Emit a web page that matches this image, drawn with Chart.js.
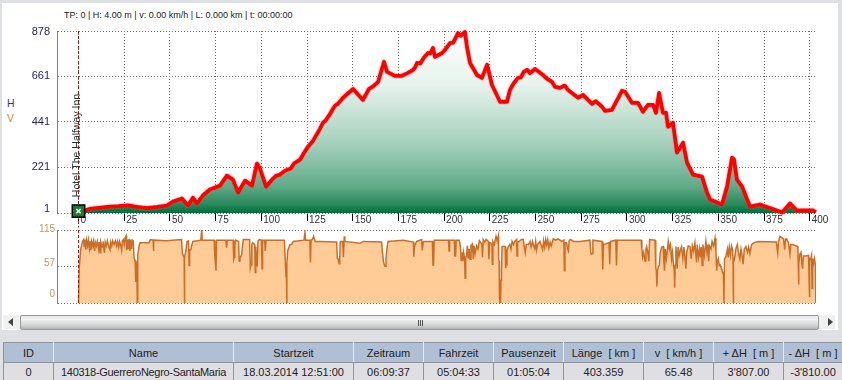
<!DOCTYPE html>
<html><head><meta charset="utf-8">
<style>
html,body{margin:0;padding:0;background:#dfe0e4;overflow:hidden;font-family:"Liberation Sans",Arial,sans-serif}
#page{position:relative;width:842px;height:380px;overflow:hidden;background:#dfe0e4}
#panel{position:absolute;left:2px;top:3px;width:836px;height:327px;background:#fff}
canvas{position:absolute;left:0}
#info{position:absolute;left:64px;top:10px;font-size:9px;line-height:11px;color:#222;white-space:nowrap}
.ax{position:absolute;left:7px;font-size:10.5px;line-height:12px}
#scroll{position:absolute;left:3px;top:315px;width:832px;height:14px;background:#f0f0f0}
#thumb{position:absolute;left:17px;top:0;width:797px;height:13px;border:1px solid #9a9a9a;border-radius:2px;box-sizing:content-box;background:linear-gradient(#e4e4e4,#f4f4f4 25%,#cfcfcf 75%,#b4b4b4)}
.grip{position:absolute;top:4px;width:1px;height:6px;background:#555}
.arr{position:absolute;top:3px;width:0;height:0;border-top:4px solid transparent;border-bottom:4px solid transparent}
table{position:absolute;left:3px;top:342px;border-collapse:collapse;table-layout:fixed;width:839px;font-size:11px;color:#222}
th,td{padding:0;text-align:center;white-space:nowrap;overflow:hidden;font-weight:normal}
th{height:19px;background:#b0bfd4;border:1px solid #8e959e;border-right:1px solid #e8ecf2}
td{height:18px;background:#dfdfe3;border:1px solid #8e959e;border-right:1px solid #8e959e}
td.nm{letter-spacing:-0.3px}
</style></head>
<body><div id="page">
<div id="panel"></div>
<div id="info">TP: 0 | H: 4.00 m | v: 0.00 km/h | L: 0.000 km | t: 00:00:00</div>
<div class="ax" style="top:97px;color:#2a3a90">H</div>
<div class="ax" style="top:112px;color:#c9864a">V</div>
<canvas id="top" style="top:0" width="842" height="228"></canvas>
<canvas id="bot" style="top:222px" width="842" height="90"></canvas>
<div id="scroll">
  <div class="arr" style="left:5px;border-right:5px solid #444"></div>
  <div id="thumb"><span class="grip" style="left:397px"></span><span class="grip" style="left:399px"></span><span class="grip" style="left:401px"></span></div>
  <div class="arr" style="left:825px;border-left:5px solid #444"></div>
</div>
<table>
<colgroup><col style="width:50px"><col style="width:180px"><col style="width:120px"><col style="width:70px"><col style="width:70px"><col style="width:70px"><col style="width:80px"><col style="width:70px"><col style="width:70px"><col style="width:59px"></colgroup>
<tr><th>ID</th><th>Name</th><th>Startzeit</th><th>Zeitraum</th><th>Fahrzeit</th><th>Pausenzeit</th><th>Länge&nbsp; [ km ]</th><th>v&nbsp; [ km/h ]</th><th>+ ΔH&nbsp; [ m ]</th><th>- ΔH&nbsp; [ m ]</th></tr>
<tr><td>0</td><td class="nm">140318-GuerreroNegro-SantaMaria</td><td>18.03.2014 12:51:00</td><td>06:09:37</td><td>05:04:33</td><td>01:05:04</td><td>403.359</td><td>65.48</td><td>3'807.00</td><td>-3'810.00</td></tr>
</table>
</div>
<script src="https://cdn.jsdelivr.net/npm/chart.js@4"></script>
<script>
const xTickValues=[0,25,50,75,100,125,150,175,200,225,250,275,300,325,350,375,400];
const hTickValues=[1,221,441,661,878];
const vTickValues=[0,57,115];
const waypointName="Hotel The Halfway Inn";

const elevKm=[0,6.3,11,17.2,22,27,32,37.5,43,48.4,51.7,56.6,59.9,62.6,64.8,68,71.9,77.4,81.2,84.5,87.3,91.1,94.9,97.6,99.3,102.6,106.4,108,110.2,113,116,118,121.2,123,125.5,128,130,132,133.7,135,137,139,140.3,142,144.7,147,148.5,150.2,155.6,158.9,161,163.9,167.1,168.8,173.1,176.9,180,183,184,185.2,187,189,191.2,192.5,193.9,195,198.9,200.5,203.2,205,207.6,209,211.4,212.5,214.2,218,220.7,223.5,226.2,230.6,234.4,236,238,240.4,242,243.5,245.4,247,249.7,252,254.1,256,259,260.7,263.4,266,267.8,273.3,276,280.9,283,286.4,288,291.8,297.3,299,302.8,306.1,308.8,311.5,314.3,315.9,317.6,319.7,321.4,322.5,325.2,327.4,330.7,332.9,336.2,341.1,343.8,345.5,352,354.8,357.5,358.6,360.2,363,367.3,372.8,382.1,384.9,389.2,393,401.8,403.36];
const elevH=[4,21,26,32,34,38,30,24,30,37,56,71,37,75,47,85,114,133,181,162,100,157,133,239,215,128,167,180,186,205,215,240,258,285,320,345,375,405,436,445,470,500,518,528,556,575,585,599,546,599,610,633,729,681,662,662,675,691,700,724,722,750,772,770,796,753,772,787,820,822,868,855,873,801,724,666,652,715,618,537,537,594,625,652,655,680,691,675,695,680,666,650,633,609,604,615,594,556,570,527,540,513,493,498,590,585,532,532,489,522,522,484,580,484,484,417,436,292,340,244,186,176,100,66,42,128,268,258,162,128,32,42,13,3,47,13,14,4];

const speedProfile=[[0,0],[0.4,56],[1.2,84],[2.2,97],[2.8,100],[3.2,88],[3.6,100],[4,84],[4.4,99],[5,90],[5.4,99],[6,86],[6.4,97],[6.8,83],[7.2,97],[7.8,90],[8.2,97],[8.8,82],[9.2,96],[9.8,90],[10.3,97],[11,85],[11.4,96],[11.8,79],[12.2,96],[13,88],[13.4,97],[14.2,79],[14.6,96],[15.2,90],[15.8,98],[16.6,88],[17.2,84],[17.6,96],[18.2,90],[18.7,98],[19.5,92],[20.2,98],[20.9,90],[21.4,97],[22,88],[22.5,97],[23.2,90],[23.6,83],[24,98],[24.5,100],[25,92],[25.5,103],[26,106],[26.3,83],[26.7,100],[27.2,86],[27.6,101],[28.1,82],[28.5,100],[29,85],[29.5,99],[30,98],
[30.4,72],[31,64],[31.3,33],[31.6,64],[31.9,62],[32.15,0],[32.4,74],[33,88],[33.6,95],[38.6,95],[39.3,100],[40.8,99],[41,82],[41.2,99],[48,98],[56.4,100],[56.8,79],[57.4,74],[57.8,72],[57.95,0],[58.1,72],[58.6,80],[59.4,97],[60.2,98],[60.5,59],[60.8,84],[61.4,84],[62.5,97],[66.9,99],[67.4,115],[67.7,99],[74.2,99],[74.6,72],[75,60],[75.2,51],[75.5,99],[80.6,99],[81,87],[81.4,99],[84.6,99],[84.9,69],[85.2,72],[85.5,89],[85.9,99],[87.6,97],[87.9,66],[88.3,70],[89.3,77],[89.7,90],[90.2,100],[93.6,100],[94,55],[94.4,60],[94.8,92],[95.3,95],[96.4,92],[96.7,48],[97,89],[97.5,60],[97.8,59],[98.2,98],[98.9,100],[100.1,99],[100.4,54],[100.7,99],[101.8,99],[102.2,82],[102.6,99],[112.6,99],[113.2,60],[113.5,42],[113.75,42],[113.9,0],[114.05,60],[114.4,82],[115.7,92],[116.5,92],[117.5,97],[123.3,99],[123.9,111],[124.2,99],[126.6,99],[126.9,64],[127.2,99],[128,100],[128.6,105],[129.5,97],[132.1,97],
[141.2,96],[141.6,70],[142.1,69],[142.6,62],[142.9,70],[143.2,97],[144.5,97],[144.9,72],[145.2,72],[145.4,105],[145.7,97],[154,94],[155.8,97],[165.8,96],[166.2,82],[166.8,66],[167.3,60],[167.7,58],[168.2,70],[168.7,85],[169.3,97],[177.7,99],[183.2,96],[183.45,73],[183.8,90],[185,97],[187.7,100],[188,83],[188.3,83],[188.7,97],[193.6,97],[193.9,60],[194.2,60],[194.6,99],[202.4,99],[202.7,82],[203,99],[205.6,99],[205.85,74],[206.3,74],[206.6,99],[208.3,99],[209,87],[209.4,66],[209.8,80],[210.2,66],[210.7,80],[211.2,70],[211.5,39],[211.8,72],[212.3,74],[212.7,90],[213.2,70],[213.7,85],[214.2,69],[214.7,92],[215.1,80],[215.5,95],[216,69],[216.4,90],[217,78],[217.8,90],[218.5,85],[219.3,98],[220,95],[220.7,92],[221,72],[221.4,100],[222.2,96],[223,100],[224.2,97],[224.5,69],[224.9,95],[225.5,95],[226.2,90],[226.4,61],[226.7,97],[227.5,92],[228.4,105],[229,98],[229.7,106],[229.85,69],[230.1,66],[230.3,8],[230.6,0],[230.9,8],[231.15,36],[231.4,50],[231.7,89],[233.4,89],[233.7,55],[234,60],[234.4,82],[235,88],[236,92],[236.6,85],[237.2,97],[238,92],[238.6,97],[239.7,100],[239.9,74],[240.2,96],[241.1,97],[242.2,100],[243.3,100],[244,85],[244.4,79],[244.9,92],[246.1,92],[247,97],[247.6,88],[248.4,97],[249,90],[249.6,85],[250.1,97],[250.6,84],[251.1,92],[252.4,97],[253.2,90],[253.9,84],[254.4,98],[255,88],[255.6,100],[256.1,92],[256.7,100],[257.3,87],[258,96],[258.6,90],[259.7,101],[261,99],[262.4,101],[264.3,97],[265.5,99],[265.8,51],[266.1,95],[267,95],[267.6,85],[268,82],[268.4,98],[269,100],[271,97],[274.3,97],
[279.8,99],[280.2,80],[280.6,77],[281,78],[281.4,99],[286.4,97],[286.8,53],[287.2,92],[290.2,95],[290.6,61],[291,97],[293.9,99],[294.3,59],[294.7,99],[307.8,99],[308.2,85],[308.6,72],[309.2,80],[309.9,66],[310.4,85],[310.8,89],[311.4,80],[312,66],[312.4,100],[315.4,99],[315.8,56],[316.1,50],[316.4,26],[316.7,50],[317.2,58],[317.7,59],[318.2,78],[319,88],[319.9,89],[320.2,65],[320.6,51],[321,85],[321.6,70],[322.2,85],[322.6,97],[323.2,85],[323.8,92],[324.4,69],[324.9,80],[325.5,60],[325.9,50],[326.1,24],[326.4,60],[326.8,89],[327.2,70],[327.5,54],[328,88],[328.6,75],[329.4,85],[329.9,89],[330.6,70],[331.2,88],[331.9,68],[332.3,54],[332.7,80],[333.5,90],[334.5,89],[335.2,70],[335.8,90],[336.5,82],[337.2,95],[337.8,75],[338.1,64],[338.5,92],[339.2,72],[339.8,85],[340.3,72],[340.7,88],[341.2,59],[341.6,92],[342.4,75],[343.2,97],[343.8,80],[344.3,92],[344.7,66],[345.1,90],[346,85],[346.6,97],[347.4,90],[348.2,102],[348.7,80],[349.1,51],[349.5,66],[350,70],[350.5,59],[351,60],[351.6,55],[352.3,49],[352.8,45],[353.1,0],[353.35,69],[354,72],[355,85],[355.4,72],[356,88],[356.6,75],[357.2,90],[357.8,84],[358.05,70],[358.2,0],[358.4,64],[358.9,70],[359.6,85],[360.4,92],[361,80],[361.8,69],[362.4,85],[363,75],[363.6,61],[364.2,85],[365.1,89],[366,80],[366.6,88],[367.3,78],[368.2,92],[369.5,95],[371.9,97],[381.7,96],[382.1,96],[382.5,79],[382.9,96],[383.7,105],[385.7,101],[386.3,84],[386.8,101],[387.4,101],[388.4,95],[389.2,77],[389.6,92],[390.5,92],[393.5,89],[393.75,60],[393.9,29],[394.1,62],[394.6,77],[395.2,80],[395.8,60],[396.1,54],[396.5,74],[397.5,74],[399.4,75],[399.7,30],[399.85,9],[400.05,70],[400.5,69],[401,75],[401.3,23],[401.6,70],[402,61],[402.6,70],[403.1,60],[403.3,54],[403.36,0]];

const markerKm=[0,0];
const markerTopH=[878,-69];
const markerBotV=[115,0];
const waypointKm=[0];
const waypointH=[10];

const pts=(xs,ys)=>xs.map((x,i)=>({x,y:ys[i]}));
const dotted={display:true,color:'#6e6e6e',lineWidth:1};
const leftW=57,rightPad=26,xMin=-11.76,xMax=403.44;

function shiftLabels(scaleId,shifts){
  return {afterUpdate(chart){
    const s=chart.scales[scaleId];
    s.getLabelItems().forEach((it,i)=>{it.options.translation[1]+=(shifts[i]||0);});
  }};
}
function greenFill(ctx){
  const a=ctx.chart.chartArea; if(!a) return '#9fcdb8';
  const g=ctx.chart.ctx.createLinearGradient(0,a.top,0,a.bottom);
  g.addColorStop(0,'#ffffff');
  g.addColorStop(0.3,'#e6f2ec');
  g.addColorStop(0.63,'#a2cfba');
  g.addColorStop(0.85,'#62ab8a');
  g.addColorStop(0.95,'#2a8a5c');
  g.addColorStop(1,'#006f3a');
  return g;
}
const waypointLabel={afterDatasetsDraw(chart){
  const c=chart.ctx,x=chart.scales.x.getPixelForValue(waypointKm[0]),y=chart.scales.y.getPixelForValue(waypointH[0]);
  c.save();c.translate(x-1,y-14);c.rotate(-Math.PI/2);
  c.font='10.5px "Liberation Sans"';c.fillStyle='#333';c.textAlign='left';c.textBaseline='middle';
  c.fillText(waypointName,0,0);c.restore();
}};

new Chart(document.getElementById('top'),{
  type:'scatter',
  data:{datasets:[
    {data:pts(waypointKm,waypointH),order:0,showLine:false,pointStyle:'crossRot',pointRadius:3,pointBorderColor:'#fff',pointBorderWidth:1.5,clip:false},
    {data:pts(waypointKm,waypointH),order:1,showLine:false,pointStyle:'rect',pointRadius:8.8,pointBackgroundColor:'#1c7a2e',pointBorderColor:'#000',pointBorderWidth:1.5,clip:false},
    {data:pts(markerKm,markerTopH),order:2,showLine:true,borderColor:'#a31515',borderWidth:1,borderDash:[3,2],pointRadius:0,clip:false},
    {data:pts(elevKm,elevH),order:3,showLine:true,borderColor:'#ff0000',borderWidth:3.8,borderJoinStyle:'round',pointRadius:0,clip:false,fill:false},
    {data:pts(elevKm,elevH),order:4,showLine:true,borderColor:'rgba(255,90,90,0.25)',borderWidth:5.5,borderJoinStyle:'round',pointRadius:0,clip:false,fill:'start',backgroundColor:greenFill}
  ]},
  plugins:[shiftLabels('y',[-4,0,0,0,1]),waypointLabel],
  options:{
    responsive:false,animation:false,events:[],
    layout:{padding:{top:31,right:rightPad,left:0,bottom:0}},
    plugins:{legend:{display:false},tooltip:{enabled:false}},
    scales:{
      x:{type:'linear',min:xMin,max:xMax,
        afterBuildTicks(s){s.ticks=xTickValues.map(v=>({value:v}));},
        afterFit(s){s.height=15;},
        border:{display:false,dash:[1,2]},
        grid:{...dotted,drawTicks:true,tickLength:8,tickColor:'#000',tickBorderDash:[],tickWidth:1},
        ticks:{align:'start',labelOffset:2,padding:-7,maxRotation:0,autoSkip:false,color:'#333',font:{size:10,family:'"Liberation Sans"'},callback:v=>String(v)}
      },
      y:{type:'linear',min:1,max:878,
        afterBuildTicks(s){s.ticks=hTickValues.map(v=>({value:v}));},
        afterFit(s){s.width=leftW;},
        border:{display:true,color:'#808080',width:1,dash:[1,2]},
        grid:{...dotted,drawTicks:false},
        ticks:{padding:7,autoSkip:false,color:'#1d1d78',font:{size:11,family:'"Liberation Sans"'},callback:v=>String(v)}
      }
    }
  }
});

new Chart(document.getElementById('bot'),{
  type:'scatter',
  data:{datasets:[
    {data:pts(markerKm,markerBotV),order:0,showLine:true,borderColor:'#b01010',borderWidth:1,borderDash:[3,2],pointRadius:0,clip:false},
    {data:speedProfile.map(p=>({x:p[0],y:p[1]})),order:1,showLine:true,borderColor:'#c96f2a',borderWidth:1.5,borderJoinStyle:'miter',pointRadius:0,fill:'start',backgroundColor:'#ffcb96'}
  ]},
  plugins:[shiftLabels('y',[-9,-4,-1])],
  options:{
    responsive:false,animation:false,events:[],
    layout:{padding:{top:6,right:rightPad,left:0,bottom:9}},
    plugins:{legend:{display:false},tooltip:{enabled:false}},
    scales:{
      x:{type:'linear',display:false,min:xMin,max:xMax},
      y:{type:'linear',min:0,max:115,
        afterBuildTicks(s){s.ticks=vTickValues.map(v=>({value:v}));},
        afterFit(s){s.width=leftW;},
        border:{display:true,color:'#808080',width:1,dash:[1,2]},
        grid:{...dotted,drawTicks:false},
        ticks:{padding:2,autoSkip:false,color:'#c9955f',font:{size:10,family:'"Liberation Sans"'},callback:v=>String(v)}
      }
    }
  }
});
</script>
</body></html>
